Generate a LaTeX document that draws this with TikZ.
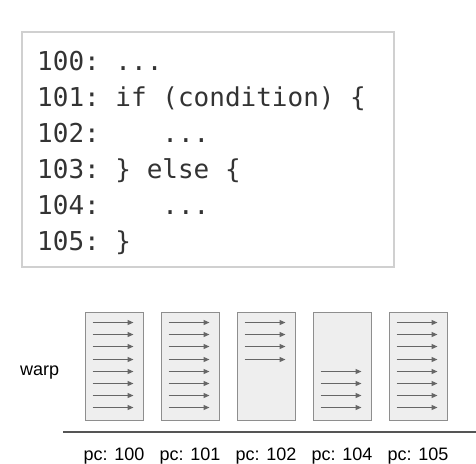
\documentclass[tikz,border=0pt]{standalone}
\usepackage{fontspec}
\setmainfont{Liberation Sans}
\newfontfamily\codefont{DejaVu Sans Mono}
\usepackage{tikz}
\usetikzlibrary{arrows.meta,positioning}

\definecolor{codetext}{HTML}{333333}
\definecolor{codeframe}{HTML}{D0D0D0}
\definecolor{boxfill}{HTML}{EEEEEE}
\definecolor{boxline}{HTML}{8E8E8E}
\definecolor{lanegray}{HTML}{666666}
\definecolor{axisgray}{HTML}{555555}

\begin{document}
\begin{tikzpicture}[x=1pt, y=-1pt,
    codeline/.style={anchor=base west, inner sep=0pt, text=codetext,
        font=\codefont\fontsize{26}{30}\selectfont\frenchspacing},
    lanebox/.style={draw=boxline, fill=boxfill, line width=1pt,
        minimum width=58pt, minimum height=108pt, inner sep=0pt},
    lane/.style={draw=lanegray, line width=1.2pt, -{Triangle[length=6pt,width=5pt]}},
    pclabel/.style={anchor=base, inner sep=0pt, font=\fontsize{18}{20}\selectfont}]
    \useasboundingbox (0,0) rectangle (476,463);
    % the code
    \node [draw=codeframe, line width=1.5pt, anchor=north west, inner sep=0pt,
        minimum width=372pt, minimum height=235pt] (code) at (21,31) {};
    \foreach \lno/\txt [count=\i from 0] in {100/{...}, 101/{if (condition) \{},
            102/{\ \ \ ...}, 103/{\} else \{}, 104/{\ \ \ ...}, 105/{\}}}
        \node [codeline] (line\lno) at (37,70+36*\i) {\lno: \txt};
    % the warp at each pc
    \node [anchor=base west, inner sep=0pt, font=\fontsize{18}{20}\selectfont] (warp) at (20,375) {warp};
    \foreach \pc/\first/\last [count=\i from 0] in {100/1/8, 101/1/8, 102/1/4, 104/5/8, 105/1/8} {
        \node [lanebox] (box\pc) at (114+76*\i,366) {};
        \foreach \r in {\first,...,\last}
            \draw [lane] ([shift={(8,11+round(12.2*(\r-1)))}]box\pc.north west) -- ++(41,0);
        \node [pclabel] (pc\pc) at ([yshift=-40pt]box\pc.south) {pc: \pc};
    }
    \coordinate (axisL) at (63,432);
    \coordinate (axisR) at (476,432);
    \draw [axisgray, line width=2pt] (axisL) -- (axisR);
\end{tikzpicture}
\end{document}
